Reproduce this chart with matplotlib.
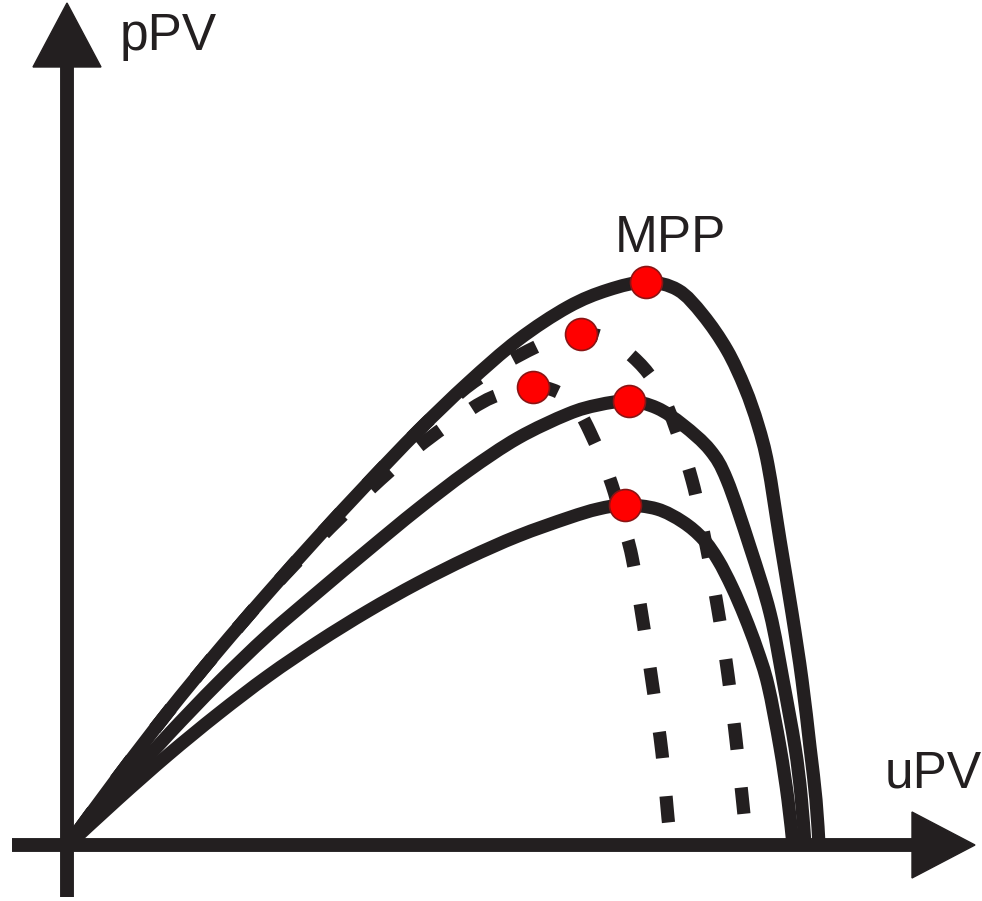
import matplotlib
matplotlib.use("Agg")
import numpy as np
import matplotlib.pyplot as plt
from matplotlib.patches import Polygon, PathPatch
from matplotlib.path import Path

# P-U characteristics of a PV module (arbitrary units)
# Solid: three irradiance levels, dashed: two higher cell temperatures
u_g1 = [0, 50, 100, 150, 200, 250, 300, 350, 400, 450, 500, 540, 578, 610,
        635, 659, 677, 690, 700, 712, 724, 734, 742, 748, 751]
p_g1 = [0, 68, 133, 194, 252, 308, 362, 414, 462, 505, 538, 555, 563, 555,
        530, 495, 457, 420, 380, 305, 232, 165, 98, 45, 0]

u_g2 = [0, 50, 100, 150, 200, 250, 300, 350, 400, 450, 500, 530, 561, 589,
        615, 642, 659, 682, 702, 715, 727, 733, 737]
p_g2 = [0, 55, 110, 162, 210, 253, 295, 336, 374, 407, 431, 440, 444, 437,
        420, 395, 365, 298, 232, 165, 98, 50, 0]

u_g3 = [0, 50, 100, 150, 200, 250, 300, 350, 400, 450, 500, 530, 557, 589,
        615, 635, 650, 664, 677, 689, 700, 712, 720, 725]
p_g3 = [0, 46, 90, 131, 169, 203, 234, 262, 287, 309, 327, 336, 340, 336,
        323, 306, 285, 258, 228, 196, 160, 98, 45, 0]

u_t1 = [0, 50, 100, 150, 200, 250, 300, 350, 380, 410, 452, 480, 513, 540,
        565, 585, 602, 624, 638, 650, 660, 668, 675, 679]
p_t1 = [0, 68, 133, 194, 252, 308, 362, 414, 442, 466, 490, 503, 511, 506,
        488, 465, 432, 365, 300, 235, 170, 105, 40, 0]

u_t2 = [0, 50, 100, 150, 200, 250, 300, 350, 400, 430, 465, 485, 500, 512,
        522, 533, 544, 554, 564, 575, 585, 594, 600, 603]
p_t2 = [0, 68, 133, 194, 252, 305, 354, 398, 434, 450, 458, 455, 446, 432,
        413, 388, 360, 325, 288, 223, 157, 92, 27, 0]

# Maximum power points
mpp_u = [578, 513, 465, 561, 557]
mpp_p = [563, 511, 458, 444, 340]

ink = "#231f20"


def smooth_path(u, p):
    """Cubic Bezier path through the given points (Catmull-Rom tangents)."""
    pts = np.column_stack([u, p]).astype(float)
    ext = np.vstack([pts[0], pts, pts[-1]])
    verts = [pts[0]]
    codes = [Path.MOVETO]
    for i in range(len(pts) - 1):
        p0, p1, p2, p3 = ext[i], ext[i + 1], ext[i + 2], ext[i + 3]
        verts += [p1 + (p2 - p0) / 6.0, p2 - (p3 - p1) / 6.0, p2]
        codes += [Path.CURVE4] * 3
    return Path(verts, codes)


fig = plt.figure(figsize=(9.82, 9.01), dpi=100)
ax = fig.add_axes([0, 0, 1, 1])
ax.set_xlim(-68, 914)
ax.set_ylim(-56, 845)
ax.axis("off")

lw = 9.5
for u, p in [(u_g1, p_g1), (u_g2, p_g2), (u_g3, p_g3)]:
    ax.add_patch(PathPatch(smooth_path(u, p), fill=False, edgecolor=ink,
                           lw=lw, capstyle="butt", joinstyle="round",
                           zorder=3, clip_on=False))
for u, p in [(u_t1, p_t1), (u_t2, p_t2)]:
    ax.add_patch(PathPatch(smooth_path(u, p), fill=False, edgecolor=ink,
                           lw=lw, linestyle=(3.7, (2.0, 2.9)),
                           capstyle="butt", joinstyle="round", zorder=3,
                           clip_on=False))

ax.plot(mpp_u, mpp_p, "o", ms=23, mfc="#ff0000", mec="#8a1414", mew=1.2,
        zorder=5, clip_on=False)

# Coordinate axes with arrow heads
axw = 10.0
ax.plot([-56, 844], [0, 0], color=ink, lw=axw, solid_capstyle="butt",
        zorder=4, clip_on=False)
ax.plot([-1, -1], [-52, 778], color=ink, lw=axw, solid_capstyle="butt",
        zorder=4, clip_on=False)
ax.add_patch(Polygon([[844, 33], [844, -33], [907, 0]], closed=True,
                     color=ink, zorder=4, clip_on=False))
ax.add_patch(Polygon([[-35, 778], [33, 778], [-1, 842]], closed=True,
                     color=ink, zorder=4, clip_on=False))

font = dict(family=["Liberation Sans", "DejaVu Sans"], size=37, color=ink)
ax.text(52, 795, "pPV", ha="left", va="baseline", **font)
ax.text(817, 57, "uPV", ha="left", va="baseline", **font)
ax.text(547, 593, "MPP", ha="left", va="baseline", **font)

fig.savefig("out.png", dpi=100)
